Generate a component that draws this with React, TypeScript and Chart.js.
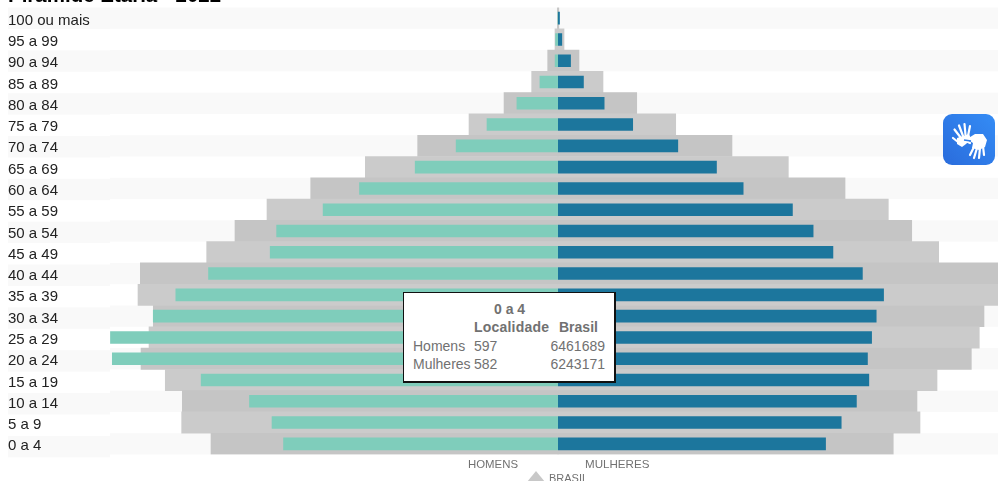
import React, { useEffect, useRef } from "react";
import { Chart, registerables } from "chart.js";

Chart.register(...registerables);

const ageGroups = ["100 ou mais","95 a 99","90 a 94","85 a 89","80 a 84","75 a 79","70 a 74","65 a 69","60 a 64","55 a 59","50 a 54","45 a 49","40 a 44","35 a 39","30 a 34","25 a 29","20 a 24","15 a 19","10 a 14","5 a 9","0 a 4"];
const menLocal = [1,6,7,40,90,155,222,311,432,511,612,626,760,831,880,973,969,776,671,622,597];
const womenLocal = [4,9,28,56,101,163,261,345,403,510,555,598,662,708,692,682,673,676,649,616,582];
const menBrasil = [11000,56000,192000,490000,1005000,1657000,2613000,3588000,4605000,5419000,6015000,6542000,7778000,7821000,7536000,7616000,7765000,7313000,6996000,7008000,6461689];
const womenBrasil = [15000,112000,391000,838000,1466000,2192000,3240000,4289000,5345000,6151000,6587000,7089000,8287000,8287000,7933000,7845000,7697000,7058000,6685000,6741000,6243171];

const LOCAL_RANGE = { min: -1194.9, max: 955.9 };
const BRASIL_RANGE = { min: -10242100, max: 8193680 };
const TEAL = "#7fcdbb";
const BLUE = "#1c769d";
const GREY_ODD = "#cbcbcb";
const GREY_EVEN = "#c5c5c5";
const TEXT = "#717171";
const greyByRow = (ctx: any) => (ctx.dataIndex % 2 === 0 ? GREY_EVEN : GREY_ODD);

const stripes = {
  id: "stripes",
  beforeDatasetsDraw(chart: any) {
    const { ctx, chartArea, scales } = chart;
    const y = scales.y;
    const step = chartArea.height / ageGroups.length;
    ctx.save();
    ctx.fillStyle = "#f9f9f9";
    ageGroups.forEach((_: string, i: number) => {
      if (i % 2 === 0) {
        const c = y.getPixelForValue(i);
        ctx.fillRect(110, c - step / 2, chartArea.right - 110, step);
      }
    });
    const labelStep = 21.42;
    ageGroups.forEach((_: string, i: number) => {
      if (i % 2 === 0) {
        ctx.fillRect(chartArea.left, chartArea.top + i * labelStep, 102, labelStep);
      }
    });
    ctx.restore();
  },
};

const abs = (left: number, top: number, extra: React.CSSProperties = {}): React.CSSProperties => ({
  position: "absolute",
  left,
  top,
  whiteSpace: "nowrap",
  ...extra,
});

export default function App() {
  const ref = useRef<HTMLCanvasElement>(null);

  useEffect(() => {
    const chart = new Chart(ref.current as HTMLCanvasElement, {
      type: "bar",
      data: {
        labels: ageGroups,
        datasets: [
          { label: "Homens Brasil", data: menBrasil.map((v) => -v), xAxisID: "xBrasil", backgroundColor: greyByRow, barPercentage: 1, categoryPercentage: 1, order: 4, grouped: false },
          { label: "Mulheres Brasil", data: womenBrasil, xAxisID: "xBrasil", backgroundColor: greyByRow, barPercentage: 1, categoryPercentage: 1, order: 3, grouped: false },
          { label: "Homens", data: menLocal.map((v) => -v), xAxisID: "xLocal", backgroundColor: TEAL, barPercentage: 0.59, categoryPercentage: 1, order: 2, grouped: false },
          { label: "Mulheres", data: womenLocal, xAxisID: "xLocal", backgroundColor: BLUE, barPercentage: 0.59, categoryPercentage: 1, order: 1, grouped: false },
        ] as any,
      },
      plugins: [stripes],
      options: {
        indexAxis: "y",
        responsive: false,
        animation: false,
        layout: { padding: { left: 0, right: 0, top: 7.5, bottom: 26.5 } },
        plugins: { legend: { display: false }, title: { display: false }, tooltip: { enabled: false } },
        scales: {
          y: {
            type: "category",
            grid: { display: false },
            border: { display: false },
            afterFit: (s: any) => {
              s.paddingTop = 0;
              s.paddingBottom = 0;
            },
            ticks: {
              z: 2,
              mirror: true,
              padding: 0,
              labelOffset: 2.5,
              autoSkip: false,
              color: "#222",
              font: { family: "'Liberation Sans', Arial, sans-serif", size: 15 },
            },
          },
          xLocal: { type: "linear", display: false, ...LOCAL_RANGE },
          xBrasil: { type: "linear", display: false, ...BRASIL_RANGE },
        },
      },
    } as any);
    return () => chart.destroy();
  }, []);

  const last = ageGroups.length - 1;
  const font = "'Liberation Sans', Arial, sans-serif";

  return (
    <div style={{ position: "absolute", left: 0, top: 0, width: 998, height: 481, overflow: "hidden", fontFamily: font, background: "#fff" }}>
      <canvas ref={ref} width={998} height={481} style={{ position: "absolute", left: 0, top: 0, display: "block" }} />

      <div style={abs(8, -20, { fontSize: 20.5, fontWeight: "bold", color: "#000", lineHeight: "30px" })}>Pirâmide Etária - 2022</div>

      <div style={abs(468, 457, { fontSize: 11.4, color: TEXT, lineHeight: "14px" })}>HOMENS</div>
      <div style={abs(585, 457, { fontSize: 11.6, color: TEXT, lineHeight: "14px" })}>MULHERES</div>
      <div style={{ position: "absolute", left: 527, top: 471, width: 0, height: 0, borderLeft: "9px solid transparent", borderRight: "9px solid transparent", borderBottom: "11px solid #c8c8c8" }} />
      <div style={abs(549, 471, { fontSize: 11, color: TEXT, lineHeight: "14px" })}>BRASIL</div>

      <div style={{ position: "absolute", left: 403, top: 292, width: 210, height: 88, background: "#fff", border: "1px solid #111", borderRightWidth: 2, borderBottomWidth: 2, color: TEXT, fontSize: 14, lineHeight: "18px" }}>
        <span style={abs(90, 7, { fontWeight: "bold" })}>{ageGroups[last]}</span>
        <span style={abs(70, 25, { fontWeight: "bold", letterSpacing: 0.2 })}>Localidade</span>
        <span style={abs(155, 25, { fontWeight: "bold" })}>Brasil</span>
        <span style={abs(9, 44)}>Homens</span>
        <span style={abs(70, 44)}>{menLocal[last]}</span>
        <span style={abs(146.5, 44)}>{menBrasil[last]}</span>
        <span style={abs(9, 62)}>Mulheres</span>
        <span style={abs(70, 62)}>{womenLocal[last]}</span>
        <span style={abs(146.5, 62)}>{womenBrasil[last]}</span>
      </div>

      <div style={{ position: "absolute", left: 943, top: 114, width: 52, height: 51, borderRadius: 9, background: "linear-gradient(45deg,#2a6cdc,#348cf5)" }}>
        <svg width={52} height={51} viewBox="0 0 52 51">
          <g stroke="#fff" strokeWidth={2.2} strokeLinecap="round" fill="none">
            <path d="M18 24 L11.5 15.5" />
            <path d="M20 22 L16 11.5" />
            <path d="M22.5 21 L21.5 10" />
            <path d="M25 22 L27 12" />
            <path d="M15 28 L10 24" />
            <path d="M31 33 L27 41" />
            <path d="M34 34 L31 44" />
            <path d="M37 34 L36 44" />
            <path d="M40 32 L41 41" />
            <path d="M27 29 L21 26" />
          </g>
          <path d="M14 24 L26 20 L28 25 L23 30 L19 33 L14 30 Z" fill="#fff" />
          <path d="M24 25 L32 20 L40 20 L44 26 L42 33 L36 36 L29 34 L30 29 Z" fill="#fff" />
          <path d="M21 26 L28 27" stroke="#2f7de8" strokeWidth={1.4} />
        </svg>
      </div>
    </div>
  );
}
